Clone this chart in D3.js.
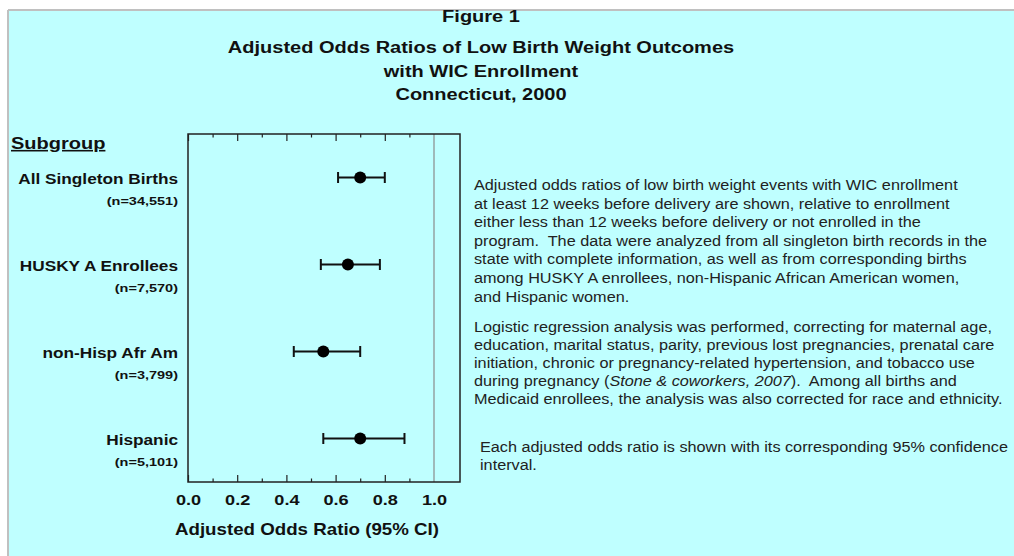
<!DOCTYPE html>
<html>
<head>
<meta charset="utf-8">
<script src="https://cdn.jsdelivr.net/npm/d3@7"></script>
<style>
  body { margin: 0; background: #fff; }
  svg { display: block; font-family: "Liberation Sans", Arial, sans-serif; }
  svg text { white-space: pre; }
</style>
</head>
<body>
<svg id="chart"></svg>
<script>
// data
const subgroups = ["All Singleton Births", "HUSKY A Enrollees", "non-Hisp Afr Am", "Hispanic"];
const sampleSizes = ["(n=34,551)", "(n=7,570)", "(n=3,799)", "(n=5,101)"];
const oddsRatios = [0.70, 0.65, 0.55, 0.70];
const ciLower = [0.61, 0.54, 0.43, 0.55];
const ciUpper = [0.80, 0.78, 0.70, 0.88];
const majorTicks = [0.0, 0.2, 0.4, 0.6, 0.8, 1.0];
const minorTicks = [0.1, 0.3, 0.5, 0.7, 0.9];

const titleLines = ["Figure 1", "Adjusted Odds Ratios of Low Birth Weight Outcomes", "with WIC Enrollment", "Connecticut, 2000"];
const para1 = [
  "Adjusted odds ratios of low birth weight events with WIC enrollment",
  "at least 12 weeks before delivery are shown, relative to enrollment",
  "either less than 12 weeks before delivery or not enrolled in the",
  "program.  The data were analyzed from all singleton birth records in the",
  "state with complete information, as well as from corresponding births",
  "among HUSKY A enrollees, non-Hispanic African American women,",
  "and Hispanic women."
];
const para3 = [
  "Each adjusted odds ratio is shown with its corresponding 95% confidence",
  "interval."
];

const rows = subgroups.map((s, i) => ({
  name: s, n: sampleSizes[i], or: oddsRatios[i], lo: ciLower[i], hi: ciUpper[i]
}));

const W = 1014, H = 556;
const SX = 1.23; // the source picture is stretched sideways
const NOTE_SX = 1.16;
const svg = d3.select("#chart").attr("width", W).attr("height", H);

// text placed at (x,y) and widened like the source
function stretched(sel, x, y, sx) {
  return sel.attr("transform", (d, i) => {
    const xx = typeof x === "function" ? x(d, i) : x;
    const yy = typeof y === "function" ? y(d, i) : y;
    return `translate(${xx},${yy}) scale(${sx || SX},1)`;
  });
}

// panel background + grey frame
svg.append("rect").attr("x", 8).attr("y", 10).attr("width", W - 8).attr("height", H - 10).attr("fill", "#bfffff");
svg.append("line").attr("x1", 8).attr("x2", W).attr("y1", 10).attr("y2", 10).attr("stroke", "#c0c0c0").attr("stroke-width", 2);
svg.append("line").attr("x1", 8).attr("x2", 8).attr("y1", 10).attr("y2", H).attr("stroke", "#c0c0c0").attr("stroke-width", 2);

// titles
svg.append("g").selectAll("text")
  .data(titleLines)
  .enter().append("text")
  .call(stretched, 481, (d, i) => i === 0 ? 22 : 53 + (i - 1) * 23.5, 1.25)
  .attr("text-anchor", "middle")
  .attr("font-weight", "bold")
  .attr("font-size", 16)
  .attr("fill", "#111")
  .text(d => d);

const box = { left: 188, right: 460, top: 134, bottom: 482 };

const x = d3.scaleLinear().domain([0, 1.1]).range([box.left, box.left + 1.1 * 246]);
const y = d3.scaleBand().domain(subgroups).range([box.top, box.bottom]);

const g = svg.append("g");

// reference line at 1.0
g.append("line")
  .attr("x1", x(1)).attr("x2", x(1))
  .attr("y1", box.top).attr("y2", box.bottom)
  .attr("stroke", "#8a8a8a").attr("stroke-width", 1.2);

// ticks (inward) bottom and top
const axB = g.append("g").attr("transform", `translate(0,${box.bottom})`)
  .call(d3.axisBottom(x).tickValues(majorTicks).tickSizeInner(-7).tickSizeOuter(0).tickPadding(13).tickFormat(d3.format(".1f")));
g.append("g").attr("transform", `translate(0,${box.bottom})`)
  .call(d3.axisBottom(x).tickValues(minorTicks).tickSizeInner(-3.5).tickSizeOuter(0).tickFormat(""));
g.append("g").attr("transform", `translate(0,${box.top})`)
  .call(d3.axisTop(x).tickValues(majorTicks.filter(v => v < 1)).tickSizeInner(-7).tickSizeOuter(0).tickFormat(""));
g.append("g").attr("transform", `translate(0,${box.top})`)
  .call(d3.axisTop(x).tickValues(minorTicks).tickSizeInner(-3.5).tickSizeOuter(0).tickFormat(""));

g.selectAll(".domain").remove();
g.selectAll(".tick line").attr("stroke", "#222").attr("stroke-width", 1.2);
axB.selectAll(".tick").filter(d => d === 1).select("line").remove();
axB.selectAll(".tick text")
  .attr("font-size", 14.5).attr("font-weight", "bold").attr("fill", "#111")
  .attr("font-family", "Liberation Sans, Arial, sans-serif")
  .attr("transform", "scale(1.25,1)");

// plot frame
g.append("rect")
  .attr("x", box.left).attr("y", box.top)
  .attr("width", box.right - box.left).attr("height", box.bottom - box.top)
  .attr("fill", "none").attr("stroke", "#222").attr("stroke-width", 1.5);

// axis title
svg.append("text")
  .call(stretched, 307, 535, 1.17)
  .attr("text-anchor", "middle")
  .attr("font-weight", "bold").attr("font-size", 16).attr("fill", "#111")
  .text("Adjusted Odds Ratio (95% CI)");

// error bars + points
const rowG = g.selectAll(".row")
  .data(rows)
  .enter().append("g")
  .attr("class", "row")
  .attr("transform", d => `translate(0,${y(d.name) + y.bandwidth() / 2})`);

rowG.append("line")
  .attr("x1", d => x(d.lo)).attr("x2", d => x(d.hi))
  .attr("stroke", "#111").attr("stroke-width", 2);
rowG.append("line")
  .attr("x1", d => x(d.lo)).attr("x2", d => x(d.lo)).attr("y1", -5.5).attr("y2", 5.5)
  .attr("stroke", "#111").attr("stroke-width", 2);
rowG.append("line")
  .attr("x1", d => x(d.hi)).attr("x2", d => x(d.hi)).attr("y1", -5.5).attr("y2", 5.5)
  .attr("stroke", "#111").attr("stroke-width", 2);
rowG.append("circle")
  .attr("cx", d => x(d.or)).attr("r", 6).attr("fill", "#000");

// subgroup labels
rowG.append("text")
  .call(stretched, 178, 6)
  .attr("text-anchor", "end").attr("font-weight", "bold").attr("font-size", 14).attr("fill", "#111")
  .text(d => d.name);
rowG.append("text")
  .call(stretched, 178, 27, 1.26)
  .attr("text-anchor", "end").attr("font-weight", "bold").attr("font-size", 11.5).attr("fill", "#111")
  .text(d => d.n);

svg.append("text")
  .call(stretched, 11, 149, 1.25)
  .attr("font-weight", "bold").attr("font-size", 16).attr("fill", "#111")
  .attr("text-decoration", "underline")
  .text("Subgroup");

// side notes
const notes = svg.append("g").attr("font-size", 14).attr("fill", "#222");
notes.selectAll(".p1").data(para1).enter().append("text")
  .call(stretched, 474, (d, i) => 190 + i * 18.6, NOTE_SX)
  .text(d => d);

const p2lines = [
  [["Logistic regression analysis was performed, correcting for maternal age,", false]],
  [["education, marital status, parity, previous lost pregnancies, prenatal care", false]],
  [["initiation, chronic or pregnancy-related hypertension, and tobacco use", false]],
  [["during pregnancy (", false], ["Stone & coworkers, 2007", true], [").  Among all births and", false]],
  [["Medicaid enrollees, the analysis was also corrected for race and ethnicity.", false]]
];
p2lines.forEach((parts, i) => {
  const t = notes.append("text").call(stretched, 474, 332 + i * 18, NOTE_SX);
  parts.forEach(([s, it]) => t.append("tspan").attr("font-style", it ? "italic" : "normal").text(s));
});

notes.selectAll(".p3").data(para3).enter().append("text")
  .call(stretched, 480, (d, i) => 452 + i * 17.5, NOTE_SX)
  .text(d => d);
</script>
</body>
</html>
